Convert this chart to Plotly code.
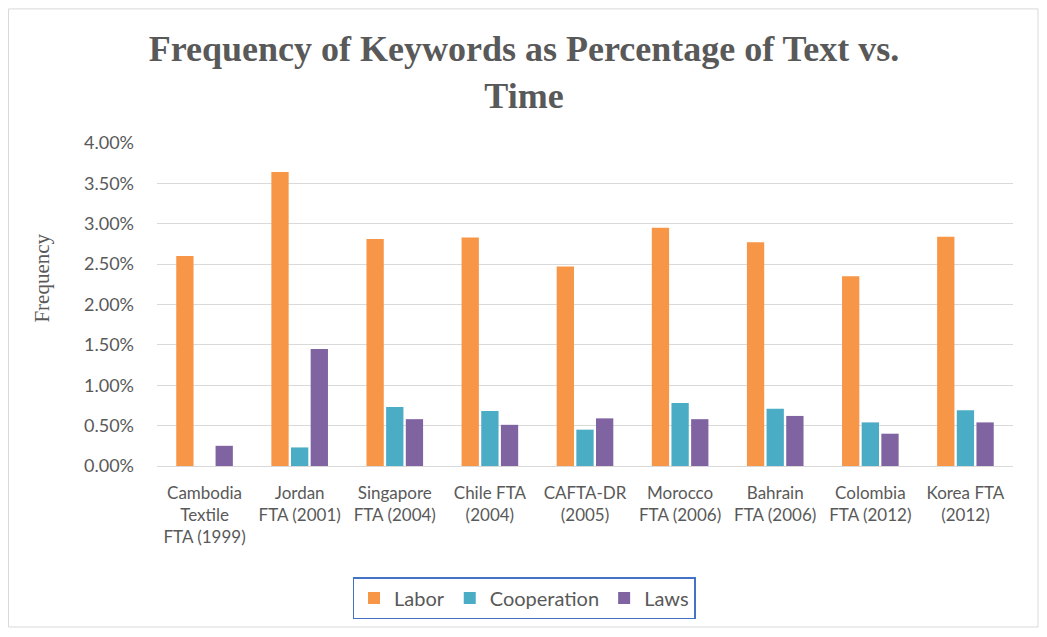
import plotly.graph_objects as go

categories = ["Cambodia<br>Textile<br>FTA (1999)", "Jordan<br>FTA (2001)", "Singapore<br>FTA (2004)",
              "Chile FTA<br>(2004)", "CAFTA-DR<br>(2005)", "Morocco<br>FTA (2006)",
              "Bahrain<br>FTA (2006)", "Colombia<br>FTA (2012)", "Korea FTA<br>(2012)"]
labor = [2.60, 3.64, 2.81, 2.83, 2.47, 2.95, 2.77, 2.35, 2.84]
cooperation = [0.0, 0.23, 0.73, 0.68, 0.45, 0.78, 0.71, 0.54, 0.69]
laws = [0.25, 1.45, 0.58, 0.51, 0.59, 0.58, 0.62, 0.40, 0.54]
series_names = ["Labor", "Cooperation", "Laws"]
colors = ["#F79646", "#4BACC6", "#8064A2"]

fig = go.Figure()
for name, vals, col in zip(series_names, [labor, cooperation, laws], colors):
    fig.add_trace(go.Bar(x=categories, y=vals, name=name, marker_color=col,
                         marker_line_width=0))

# page has an 8px body margin; figure is placed at (8, 8)
OFF = 8
W, H = 1031, 621
ml, mt = 157 - OFF, 143 - OFF
mr = W - (1013 - OFF)
mb = H - (467 - OFF)
pw, ph = W - ml - mr, H - mt - mb

def px_x(x):
    return (x - OFF - ml) / pw

def px_y(y):
    return (H - mb - (y - OFF)) / ph

fig.update_layout(
    width=W, height=H,
    margin=dict(l=ml, r=mr, t=mt, b=mb),
    paper_bgcolor="white", plot_bgcolor="white",
    barmode="group", bargap=0.38, bargroupgap=0.12,
    title=dict(text="Frequency of Keywords as Percentage of Text vs.<br>Time",
               x=(524 - OFF) / W, xanchor="center", y=1 - (61 - OFF) / H, yanchor="middle",
               font=dict(family="Liberation Serif", size=36, color="#595959", weight="bold")),
    font=dict(family="Lato", color="#595959"),
    yaxis=dict(range=[0, 4.0], dtick=0.5, tickformat=".2f", ticksuffix="%",
               showgrid=True, gridcolor="#D9D9D9", gridwidth=1.3, zeroline=False,
               showline=False, tickfont=dict(size=18, color="#595959"),
               ticks="", ticklen=0, ticklabelstandoff=22),
    xaxis=dict(showline=True, linecolor="#D9D9D9", linewidth=1.3, ticks="",
               tickfont=dict(size=17, color="#595959"), tickangle=0,
               ticklabelstandoff=11),
    legend=dict(orientation="h", x=px_x(524), xanchor="center",
                y=px_y(577), yanchor="top",
                bordercolor="#4472C4", borderwidth=1.5,
                font=dict(size=20, color="#595959"),
                itemwidth=30, traceorder="normal"),
    showlegend=True,
)

fig.add_annotation(text="Frequency", textangle=-90, xref="paper", yref="paper",
                   x=px_x(42), y=px_y(279), xanchor="center", yanchor="middle",
                   showarrow=False,
                   font=dict(family="Liberation Serif", size=21, color="#595959"))

# outer chart border
fig.add_shape(type="rect", xref="paper", yref="paper",
              x0=(0.5 - ml) / pw, x1=(W - 1 - ml) / pw,
              y0=(-(mb) + 0.5) / ph, y1=(H - mb - 0.5) / ph,
              line=dict(color="#D9D9D9", width=1), fillcolor="rgba(0,0,0,0)", layer="below")

fig.write_html("out.html")
